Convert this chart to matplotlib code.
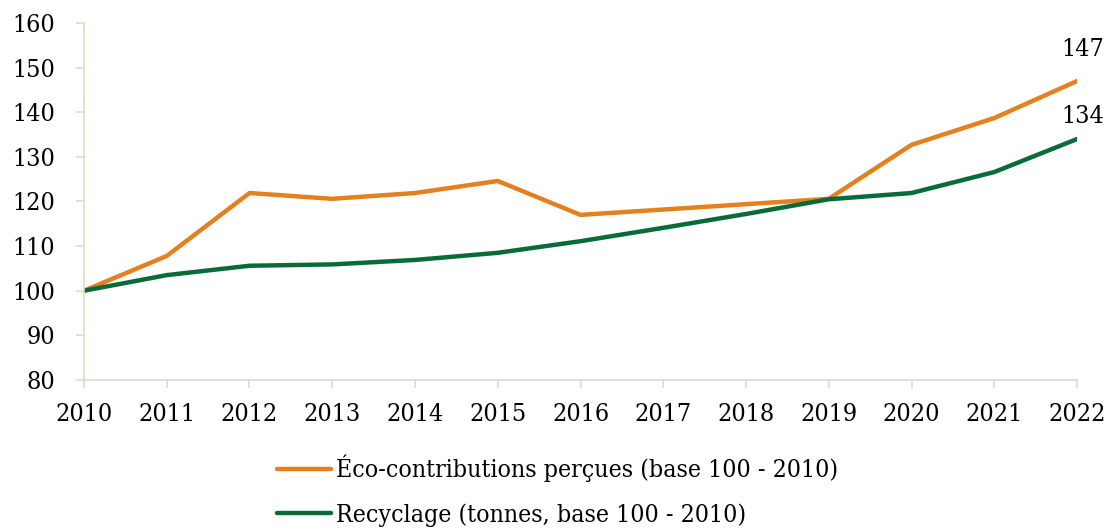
import matplotlib.pyplot as plt

# Data
years = list(range(2010, 2023))
eco_contrib = [100, 107.8, 121.9, 120.6, 121.9, 124.6, 117.0, 118.2, 119.4, 120.6, 132.7, 138.7, 147.0]
recyclage = [100, 103.5, 105.6, 105.9, 106.9, 108.5, 111.1, 114.1, 117.2, 120.5, 121.9, 126.6, 134.0]
labels = ['Éco-contributions perçues (base 100 - 2010)', 'Recyclage (tonnes, base 100 - 2010)']

plt.rcParams['font.family'] = ['DejaVu Serif']
plt.rcParams['font.stretch'] = 'condensed'

fig = plt.figure(figsize=(11.14, 5.29), dpi=100)
ax = fig.add_axes([0.0754, 0.2817, 0.8914, 0.6748])

l1, = ax.plot(years, eco_contrib, color='#E5801E', lw=3.2, solid_capstyle='round', label=labels[0])
l2, = ax.plot(years, recyclage, color='#0A6B3A', lw=3.2, solid_capstyle='round', label=labels[1])

# end labels
ax.annotate(f'{eco_contrib[-1]:.0f}', (years[-1], eco_contrib[-1]), xytext=(4, 23),
            textcoords='offset points', ha='center', va='center', fontsize=18)
ax.annotate(f'{recyclage[-1]:.0f}', (years[-1], recyclage[-1]), xytext=(4, 16),
            textcoords='offset points', ha='center', va='center', fontsize=18)

ax.set_xlim(2010, 2022)
ax.set_ylim(80, 160)
ax.set_xticks(years)
ax.set_yticks(range(80, 161, 10))
ax.tick_params(labelsize=18)
ax.tick_params(axis='y', color='#E0DCC0', length=6, width=1.2, pad=15)
ax.tick_params(axis='x', color='#D9D9D9', length=5.5, width=1.2, pad=11)

for s in ['top', 'right']:
    ax.spines[s].set_visible(False)
ax.spines['left'].set_color('#E0DCC0')
ax.spines['left'].set_linewidth(1.2)
ax.spines['bottom'].set_color('#D9D9D9')
ax.spines['bottom'].set_linewidth(1.2)

fig.legend(handles=[l1, l2], loc='upper left', bbox_to_anchor=(277 / 1114, 1 - 455 / 529), ncol=1,
           frameon=False, fontsize=17.8, handlelength=2.2, handletextpad=0.2,
           labelspacing=0.85, borderpad=0, borderaxespad=0)

fig.savefig('out.png', dpi=100)
